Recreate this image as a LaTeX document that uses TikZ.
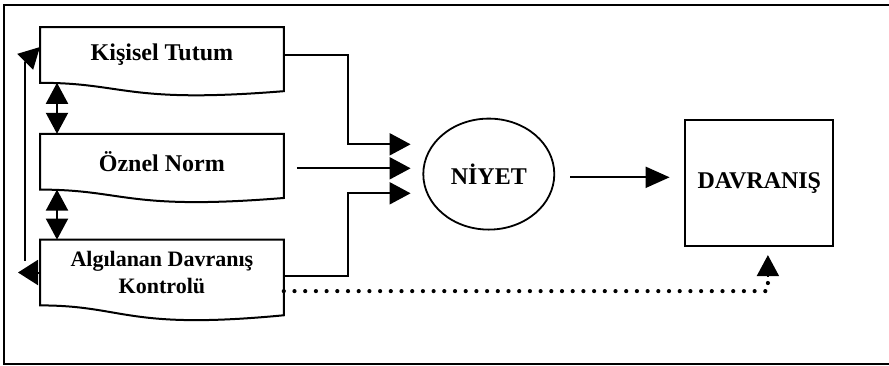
\documentclass[tikz,border=0pt]{standalone}
\usepackage{fontspec}
\setmainfont{Liberation Serif}
\usepackage{tikz}
\usetikzlibrary{shapes.geometric, arrows.meta, positioning, calc}
\tikzstyle{line} = [line width=1pt]
\tikzstyle{arrow} = [line, -{Triangle[length=10.5pt, width=11pt]}]
\tikzstyle{longarrow} = [line, -{Triangle[length=12pt, width=10.5pt]}]
\tikzstyle{dblarrow} = [line, {Triangle[length=10.5pt, width=11pt]}-{Triangle[length=10.5pt, width=11pt]}]
\tikzstyle{dots} = [line width=2.1pt, line cap=round, dash pattern=on 0pt off 5.35pt]
\tikzstyle{basic} = [rectangle, inner sep=0pt, text centered, align=center, text=black, font=\fontsize{12}{13.8}\selectfont\bfseries]
\tikzstyle{docbox} = [basic, minimum width=121.5pt, minimum height=27.5pt]
% outline with the wavy bottom
\newcommand{\docoutline}[1]{%
  \draw [line] let \p1=(#1.north west), \p2=(#1.south east), \n1={\y1-\y2} in
    (\p1) -- (\x2,\y1) -- (\x2,{\y2-0.15*\n1})
    .. controls ({0.65*\x1+0.35*\x2},{\y2-0.38*\n1}) and ({0.65*\x1+0.35*\x2},\y2) ..
    (\x1,\y2) -- cycle;}

\begin{document}
\begin{tikzpicture}[x=0.5pt, y=-0.5pt]
\useasboundingbox (0,0) rectangle (889,365);
\clip (0,0) rectangle (889,365);
\draw [line] (4,5) rectangle (900,363.5);

\node (kt) [docbox, anchor=north west] at (40,27) {Kişisel Tutum};
\node (on) [docbox, anchor=north west, yshift=-25.5pt] at(kt.south west) {Öznel Norm};
\node (alg) [docbox, minimum height=32.5pt, anchor=north west, yshift=-25pt, font=\fontsize{11}{13.3}\selectfont\bfseries] at(on.south west) {Algılanan Davranış\\Kontrolü};
\docoutline{kt}
\docoutline{on}
\docoutline{alg}

\draw [dblarrow] ($(kt.south west) + (8.5pt, 0)$) -- ($(on.north west) + (8.5pt, 0)$);
\draw [dblarrow] ($(on.south west) + (8.5pt, 0)$) -- ($(alg.north west) + (8.5pt, 0)$);

\node (niyet) [basic, ellipse, draw, line width=0.9pt, minimum width=65.5pt, minimum height=55.5pt, anchor=west, xshift=69.3pt, yshift=-6.2pt] at(on.east) {NİYET};
\node (davr) [basic, draw, line width=1.1pt, minimum width=74pt, minimum height=63pt, anchor=west, xshift=64.5pt, yshift=-4.25pt] at(niyet.east) {\raisebox{2.3pt}{DAVRANIŞ}};

% three inputs of NIYET
\coordinate (in1) at ($(niyet.west) + (-5.9pt, 14.9pt)$);
\coordinate (in2) at ($(niyet.west) + (-5.9pt, 2.9pt)$);
\coordinate (in3) at ($(niyet.west) + (-5.9pt, -9.6pt)$);
\coordinate (onout) at ($(on.east |- in2) + (6.5pt, 0)$);
\draw [arrow] (kt.east) -- ++(32pt, 0) |- (in1);
\draw [arrow] (onout) -- (in2);
\draw [arrow] ($(alg.east) + (0, -1.8pt)$) -- ++(32pt, 0) |- (in3);

\coordinate (nyout) at ($(niyet.east) + (7.5pt, -1.6pt)$);
\draw [longarrow, shorten >=7.3pt] (nyout) -- (nyout -| davr.west);

% dotted link to DAVRANIS
\coordinate (dotstart) at ($(alg.east) + (0, -9.3pt)$);
\coordinate (dotend) at ($(davr.south) + (4.3pt, -4.2pt)$);
\draw [dots] (dotstart) -| ($(dotend) + (0, -12pt)$);
\draw [arrow] ($(dotend) + (0, -10.5pt)$) -- (dotend);

% feedback line on the left
\coordinate (fbtop) at ($(kt.north west) + (-7.5pt, -17.5pt)$);
\coordinate (fbtip) at ($(kt.north west) + (0, -10pt)$);
\coordinate (fbbot) at (fbtop |- alg.west);
\coordinate (fbend) at ($(alg.west) + (-11pt, 0)$);
\draw [line] (fbtop) -- ($(fbbot) + (0, 6pt)$);
\draw [arrow] (fbtop) -- (fbtip);
\draw [line, -{Triangle[length=10pt, width=12.5pt]}] (alg.west) -- (fbend);

\end{tikzpicture}
\end{document}
